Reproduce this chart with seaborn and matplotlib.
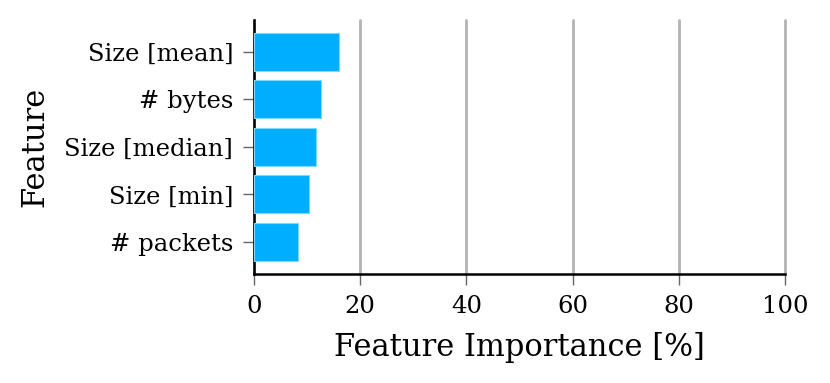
import matplotlib
matplotlib.use("Agg")
import matplotlib.pyplot as plt
import seaborn as sns
import pandas as pd

features = ["Size [mean]", "# bytes", "Size [median]", "Size [min]", "# packets"]
importance = [15.95, 12.55, 11.75, 10.3, 8.2]

sns.set_style("white")
plt.rcParams['font.family'] = ['DejaVu Serif']

df = pd.DataFrame({"Feature": features, "Importance": importance})

fig = plt.figure(figsize=(8.3, 3.83), dpi=100)
ax = fig.add_axes([0.306, 0.285, 0.640, 0.663])
sns.barplot(data=df, x="Importance", y="Feature", color="#00AEFF", saturation=1,
            width=0.8, edgecolor="#7fd6ff", linewidth=0.8, ax=ax, zorder=3)
ax.set_xlim(0, 100)
ax.set_ylim(4.67, -0.67)
ax.set_xticks([0, 20, 40, 60, 80, 100])
ax.xaxis.grid(True, color="#b3b3b3", linewidth=2, zorder=0)
for gl in ax.get_xgridlines():
    gl.set_clip_on(False)
ax.yaxis.grid(False)
ax.set_axisbelow(True)
for s in ["top", "right"]:
    ax.spines[s].set_visible(False)
for s in ["left", "bottom"]:
    ax.spines[s].set_color("black")
    ax.spines[s].set_linewidth(1.8)
ax.tick_params(axis="both", which="both", length=8, width=1, color="#666666",
               labelsize=17.5, labelcolor="black", pad=7, left=True, bottom=True)
ax.set_xlabel("Feature Importance [%]", fontsize=22, color="black", labelpad=10)
ax.set_ylabel("Feature", fontsize=22, color="black", labelpad=10)
fig.savefig("out.png", dpi=100)
